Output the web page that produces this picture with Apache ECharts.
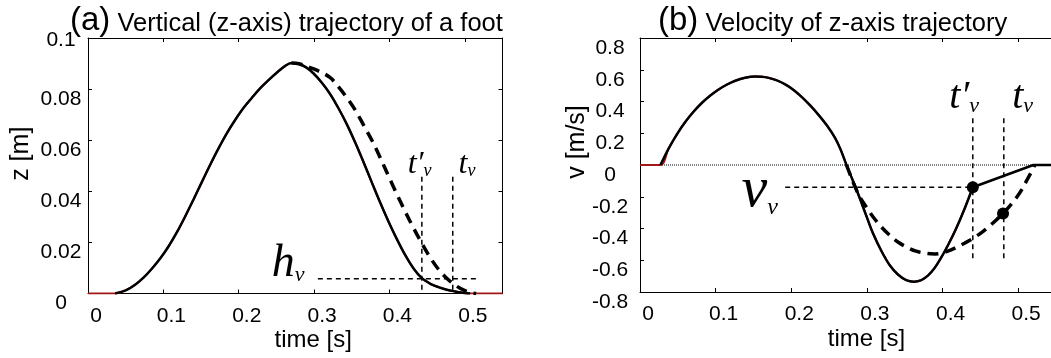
<!DOCTYPE html>
<html><head><meta charset="utf-8">
<script src="https://cdn.jsdelivr.net/npm/echarts@6/dist/echarts.min.js"></script>
<style>html,body{margin:0;padding:0;background:#fff;overflow:hidden}#c{width:1051px;height:358px}</style>
</head><body><div id="c"></div>
<script>
// ---------------- data ----------------
const xTickLabels = ['0', '0.1', '0.2', '0.3', '0.4', '0.5'];
const zTickLabels = ['0', '0.02', '0.04', '0.06', '0.08', '0.1'];
const vTickLabels = ['-0.8', '-0.6', '-0.4', '-0.2', '0', '0.2', '0.4', '0.6', '0.8'];

// (a) z trajectory, solid (modified) curve
const zSolidT = [0.036, 0.05, 0.063, 0.075, 0.085, 0.096, 0.107, 0.118, 0.129, 0.14, 0.151, 0.162, 0.173, 0.184, 0.195, 0.206, 0.2175, 0.228, 0.2395, 0.25, 0.2617, 0.27, 0.28, 0.29, 0.299, 0.31, 0.321, 0.332, 0.3435, 0.355, 0.3655, 0.377, 0.3877, 0.399, 0.41, 0.421, 0.432, 0.443, 0.455, 0.465, 0.476, 0.487, 0.497, 0.507];
const zSolidV = [0, 0.0012, 0.0035, 0.0066, 0.0098, 0.0138, 0.0185, 0.024, 0.0302, 0.0368, 0.0436, 0.0503, 0.0567, 0.0626, 0.0678, 0.0725, 0.0766, 0.0802, 0.0835, 0.0863, 0.0891, 0.0902, 0.0898, 0.0884, 0.0862, 0.0826, 0.0782, 0.0727, 0.0662, 0.0588, 0.0515, 0.0432, 0.0356, 0.028, 0.0212, 0.015, 0.0098, 0.006, 0.0037, 0.0025, 0.0015, 0.0008, 0.0003, 0];
// (a) z trajectory, dashed (original) descent
const zDashT = [0.27, 0.28, 0.29, 0.305, 0.321, 0.332, 0.3435, 0.355, 0.3655, 0.377, 0.388, 0.399, 0.41, 0.421, 0.432, 0.443, 0.454, 0.465, 0.476, 0.487, 0.498, 0.509, 0.515];
const zDashV = [0.0902, 0.0899, 0.0889, 0.0872, 0.0846, 0.081, 0.0766, 0.0716, 0.066, 0.0598, 0.053, 0.0458, 0.0388, 0.032, 0.0256, 0.0196, 0.0141, 0.0095, 0.006, 0.0033, 0.0014, 0.0003, 0];
// (a) reference (red) curve ends
const zRefStart = [0, 0];
const zRefEnd = [0.55, 0];

// (b) velocity, solid curve
const vSolidT = [0.027, 0.038, 0.049, 0.06, 0.071, 0.082, 0.093, 0.104, 0.115, 0.126, 0.139, 0.152, 0.161, 0.17, 0.181, 0.192, 0.203, 0.214, 0.225, 0.236, 0.247, 0.258, 0.265, 0.273, 0.279, 0.285, 0.291, 0.3, 0.308, 0.319, 0.33, 0.341, 0.352, 0.362, 0.372, 0.381, 0.389, 0.397, 0.407, 0.418, 0.429, 0.44];
const vSolidV = [0, 0.105, 0.195, 0.272, 0.337, 0.392, 0.438, 0.476, 0.507, 0.531, 0.549, 0.557, 0.556, 0.549, 0.533, 0.508, 0.473, 0.428, 0.375, 0.316, 0.25, 0.17, 0.1, 0, -0.07, -0.14, -0.215, -0.33, -0.43, -0.54, -0.63, -0.69, -0.725, -0.735, -0.725, -0.695, -0.652, -0.593, -0.507, -0.4, -0.277, -0.14];
// (b) solid tail after t'_v
const vTailT = [0.44, 0.52, 0.55];
const vTailV = [-0.14, 0, 0];
// (b) dashed (original) curve
const vDashT = [0.273, 0.279, 0.285, 0.291, 0.3, 0.308, 0.319, 0.33, 0.341, 0.352, 0.365, 0.379, 0.39, 0.396, 0.407, 0.418, 0.429, 0.44, 0.451, 0.462, 0.471, 0.48, 0.489, 0.498, 0.505, 0.511, 0.517, 0.522];
const vDashV = [0, -0.075, -0.145, -0.205, -0.27, -0.326, -0.39, -0.442, -0.485, -0.516, -0.543, -0.557, -0.56, -0.558, -0.543, -0.52, -0.493, -0.463, -0.427, -0.385, -0.347, -0.305, -0.257, -0.203, -0.153, -0.1, -0.048, 0];
const vRefStart = [0, 0];

// annotation values
const zTvPrime = 0.443, zTv = 0.484, zVLineTop = 0.0457, zHv = 0.0058, zHvFrom = 0.305, zHvTo = 0.519;
const vTvPrime = 0.44, vTv = 0.481, vVLineTop = 0.295, vVLineBottom = -0.59, vVv = -0.14, vVvFrom = 0.192;
const vDotsT = [0.44, 0.48];
const vDotsV = [-0.14, -0.305];
const zeroLineT = [0, 0.55];

// --------------- build ---------------
const zip = (a, b) => a.map((x, i) => [x, b[i]]);
const SANS = '"Liberation Sans", Arial, sans-serif';
const SERIF = '"Liberation Serif", "Times New Roman", serif';

function xLabel(v) {
  const i = Math.round(v * 10);
  return (Math.abs(v - i / 10) < 1e-6 && i < xTickLabels.length) ? xTickLabels[i] : '';
}
function zLabel(v) {
  const i = Math.round(v / 0.02);
  if (Math.abs(v - i * 0.02) > 1e-6) return '';
  return i === 5 ? '{t|' + zTickLabels[i] + '}' : '{n|' + zTickLabels[i] + '}';
}
function vLabel(v) {
  const i = Math.round((v + 0.8) / 0.2);
  if (Math.abs(v - (i * 0.2 - 0.8)) > 1e-6) return '';
  return '{n|' + vTickLabels[i] + '}';
}

const axLine = { show: true, onZero: false, lineStyle: { color: '#000', width: 1 } };
const axTick = { show: true, inside: true, length: 4, lineStyle: { color: '#000', width: 1 } };

function xAx(grid, pos, show, nameShift) {
  const a = {
    type: 'value', gridIndex: grid, position: pos, min: 0, max: 0.55, interval: 0.1,
    axisLine: axLine, axisTick: axTick, splitLine: { show: false },
    axisLabel: show ? { show: true, fontSize: 21, color: '#000', fontFamily: SANS, fontWeight: 'normal', margin: 12, padding: [0, 0, 0, 16], formatter: xLabel, showMaxLabel: true } : { show: false }
  };
  if (show) {
    a.name = 'time [s]'; a.nameLocation = 'middle'; a.nameGap = 35; a.nameMoveOverlap = false;
    a.nameTextStyle = { fontSize: 24, color: '#000', fontFamily: SANS, fontWeight: 'normal', padding: [0, 0, 0, nameShift] };
  }
  return a;
}
function yAx(grid, pos, show, cfg) {
  const a = {
    type: 'value', gridIndex: grid, position: pos, min: cfg.min, max: cfg.max, interval: cfg.interval,
    axisLine: axLine, axisTick: axTick, splitLine: { show: false },
    axisLabel: { show: false }
  };
  if (show) {
    a.axisLabel = {
      show: true, align: 'center', margin: cfg.margin, formatter: cfg.fmt, color: '#000', fontFamily: SANS, fontSize: 21,
      rich: {
        n: { fontSize: 21, color: '#000', fontFamily: SANS, fontWeight: 'normal', padding: [20, 0, 0, 0] },
        t: { fontSize: 21, color: '#000', fontFamily: SANS, fontWeight: 'normal', padding: [4, 0, 0, 0] }
      }
    };
    a.name = cfg.name; a.nameLocation = 'middle'; a.nameGap = cfg.nameGap; a.nameMoveOverlap = false;
    a.nameTextStyle = { fontSize: 25, color: '#000', fontFamily: SANS, fontWeight: 'normal', padding: [0, 0, 0, cfg.nameShift] };
  }
  return a;
}

function line(xi, data, style, extra) {
  return Object.assign({
    type: 'line', xAxisIndex: xi, yAxisIndex: xi, data: data, showSymbol: false, symbol: 'none',
    silent: true, animation: false, lineStyle: style, z: 3
  }, extra || {});
}

function annot(xi, t, y, big, fs, sfs) {
  return {
    type: 'scatter', xAxisIndex: xi, yAxisIndex: xi, data: [[t, y]], symbolSize: 1,
    itemStyle: { color: 'rgba(0,0,0,0)', opacity: 1 }, silent: true, animation: false, z: 10,
    label: {
      show: true, position: [0, 0], align: 'left', verticalAlign: 'bottom', offset: [0, Math.round(0.2 * fs)],
      color: '#000', opacity: 1, fontFamily: SERIF, fontStyle: 'italic', textBorderWidth: 0,
      formatter: '{b|' + big + '}{s|v}',
      rich: {
        b: { fontSize: fs, fontFamily: SERIF, fontStyle: 'italic', fontWeight: 'normal', color: '#000', opacity: 1, textBorderWidth: 0, verticalAlign: 'bottom' },
        s: { fontSize: sfs, fontFamily: SERIF, fontStyle: 'italic', fontWeight: 'normal', color: '#000', opacity: 1, textBorderWidth: 0, verticalAlign: 'bottom' }
      }
    }
  };
}

const thinDash = { color: '#000', width: 1.5, type: [5, 4] };
const thickDash = { color: '#000', width: 3.5, type: [11, 7] };
const solid = { color: '#000', width: 2.5 };
const red = { color: '#a01818', width: 2 };

const zSolid = zip(zSolidT, zSolidV);
const vSolid = zip(vSolidT, vSolidV);

const titleRich = {
  a: { fontSize: 33, fontFamily: SANS, fontWeight: 'normal', color: '#000', verticalAlign: 'bottom' },
  b: { fontSize: 25.5, fontFamily: SANS, fontWeight: 'normal', color: '#000', verticalAlign: 'bottom' }
};

const option = {
  animation: false,
  backgroundColor: '#fff',
  title: [
    { left: 70, top: 4, padding: 0, text: '{a|(a)}{b| Vertical (z-axis) trajectory of a foot}',
      textStyle: { fontWeight: 'normal', fontFamily: SANS, color: '#000', rich: titleRich } },
    { left: 658, top: 4, padding: 0, text: '{a|(b)}{b| Velocity of z-axis trajectory}',
      textStyle: { fontWeight: 'normal', fontFamily: SANS, color: '#000', rich: titleRich } }
  ],
  grid: [
    { left: 88, top: 38, right: 548.5, bottom: 64.5, outerBoundsMode: 'none', containLabel: false },
    { left: 640, top: 38, right: -5, bottom: 66, outerBoundsMode: 'none', containLabel: false }
  ],
  xAxis: [
    xAx(0, 'bottom', true, 36),
    xAx(0, 'top', false),
    xAx(1, 'bottom', true, 37),
    xAx(1, 'top', false)
  ],
  yAxis: [
    yAx(0, 'left', true, { min: 0, max: 0.1, interval: 0.02, margin: 27, fmt: zLabel, name: 'z [m]', nameGap: 54, nameShift: 24 }),
    yAx(0, 'right', false, { min: 0, max: 0.1, interval: 0.02 }),
    yAx(1, 'left', true, { min: -0.8, max: 0.8, interval: 0.2, margin: 30, fmt: vLabel, name: 'v [m/s]', nameGap: 50, nameShift: 46 }),
    yAx(1, 'right', false, { min: -0.8, max: 0.8, interval: 0.2 })
  ],
  series: [
    // ---- (a) ----
    line(0, [zRefStart].concat(zSolid, [zRefEnd]), red, { smooth: 0.35, z: 2 }),
    line(0, zip(zDashT, zDashV), thickDash, { smooth: 0.35 }),
    line(0, zSolid, solid, { smooth: 0.35, z: 4 }),
    line(0, [[zTvPrime, zVLineTop], [zTvPrime, 0]], thinDash),
    line(0, [[zTv, zVLineTop], [zTv, 0]], thinDash),
    line(0, [[zHvFrom, zHv], [zHvTo, zHv]], thinDash),
    annot(0, 0.2444, 0.0061, 'h', 46, 22),
    annot(0, 0.4248, 0.0464, 't′', 32, 18),
    annot(0, 0.4924, 0.0464, 't', 32, 18),
    // ---- (b) ----
    line(2, zeroLineT.map(t => [t, 0]), { color: '#000', width: 1, type: [1, 1] }, { z: 1 }),
    line(2, [vRefStart].concat(vSolid), red, { smooth: 0.35, z: 2 }),
    line(2, zip(vDashT, vDashV), thickDash, { smooth: 0.35 }),
    line(2, vSolid, solid, { smooth: 0.35, z: 4 }),
    line(2, zip(vTailT, vTailV), solid, { z: 4 }),
    line(2, [[vTvPrime, vVLineTop], [vTvPrime, vVLineBottom]], thinDash),
    line(2, [[vTv, vVLineTop], [vTv, vVLineBottom]], thinDash),
    line(2, [[vVvFrom, vVv], [vTvPrime, vVv]], thinDash),
    { type: 'scatter', xAxisIndex: 2, yAxisIndex: 2, data: zip(vDotsT, vDotsV), symbol: 'circle', symbolSize: 12,
      itemStyle: { color: '#000', opacity: 1 }, silent: true, animation: false, z: 6 },
    annot(2, 0.4096, 0.347, 't′', 40, 22),
    annot(2, 0.4928, 0.347, 't', 40, 22),
    annot(2, 0.1347, -0.273, 'v', 58, 24)
  ]
};

const chart = echarts.init(document.getElementById('c'), null, { renderer: 'canvas' });
chart.setOption(option);
</script>
</body></html>
